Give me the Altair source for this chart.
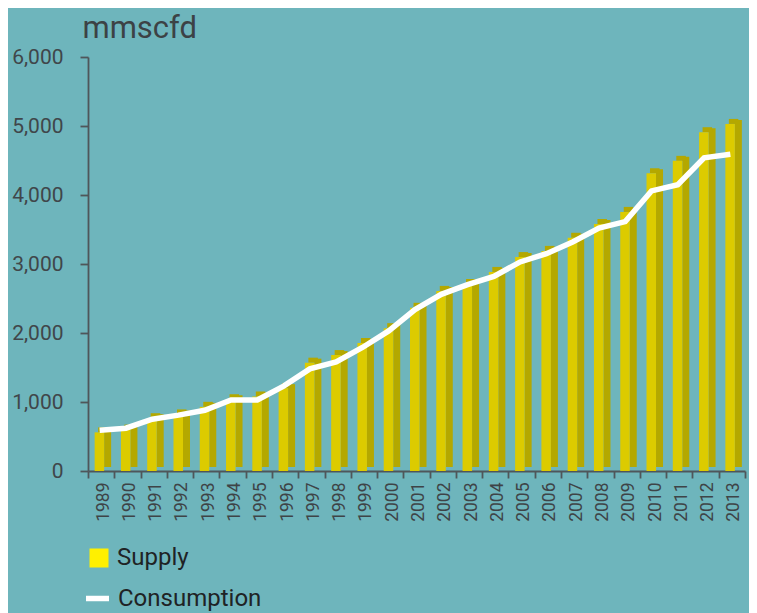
import altair as alt
import pandas as pd

years = [str(y) for y in range(1989, 2014)]
supply = [560, 600, 765, 820, 930, 1040, 1080, 1200, 1570, 1680, 1855, 2070, 2365,
          2610, 2710, 2885, 3100, 3190, 3380, 3580, 3755, 4315, 4495, 4910, 5030]
consumption = [590, 620, 750, 810, 880, 1030, 1030, 1230, 1480, 1580, 1790, 2030, 2340,
               2560, 2700, 2820, 3030, 3150, 3320, 3520, 3615, 4060, 4150, 4540, 4590]

df = pd.DataFrame({"year": years, "supply": supply, "consumption": consumption})

BG = "#6EB5BC"
FRONT = "#DCCB00"
DARK = "#B4A800"
AXIS = "#4F565A"
FONT = "Roboto"

x = alt.X("year:O", scale=alt.Scale(paddingInner=0, paddingOuter=0),
          axis=alt.Axis(title=None, labelAngle=270, tickBand="extent", labelFont=FONT,
                        labelFontSize=17.5, labelColor="#3E4447", labelPadding=4,
                        labelOffset=2, tickSize=7, tickColor=AXIS, domainColor=AXIS,
                        domainWidth=1.8, tickWidth=1.8))
y_scale = alt.Scale(domain=[0, 6000], nice=False)

base = alt.Chart(df)

side = base.mark_bar(size=7, xOffset=6.5, yOffset=-4, y2Offset=-2.5, color=DARK).encode(
    x=x,
    y=alt.Y("supply:Q", scale=y_scale,
            axis=alt.Axis(values=[0, 1000, 2000, 3000, 4000, 5000, 6000], format=",.0f",
                          grid=False, title="mmscfd", titleAngle=0, titleAlign="left",
                          titleBaseline="alphabetic", titleX=-6, titleY=-20,
                          titleFont=FONT, titleFontSize=31, titleFontWeight="normal",
                          titleColor="#3C4245", labelFont=FONT, labelFontSize=21,
                          labelColor="#40464A", labelPadding=17, tickSize=8,
                          tickColor=AXIS, domainColor=AXIS, domainWidth=1.8,
                          tickWidth=1.8)),
)

top = base.mark_bar(size=9.5, xOffset=1.75, yOffset=-5, color=DARK).encode(
    x=x, y=alt.Y("supply:Q", scale=y_scale), y2="supply:Q"
)

front = base.mark_bar(size=9.5, xOffset=-1.75, color=FRONT).encode(
    x=x, y=alt.Y("supply:Q", scale=y_scale)
)

legend_bar = base.transform_calculate(zero="0", series="'Supply'").mark_bar(size=1).encode(
    x=x,
    y=alt.Y("zero:Q", scale=y_scale),
    fill=alt.Fill("series:N",
                  scale=alt.Scale(domain=["Supply"], range=["#FFF000"]),
                  legend=alt.Legend(title=None, orient="none", legendX=-1, legendY=489,
                                    symbolType="square", symbolSize=361,
                                    symbolStrokeWidth=0, labelFont=FONT,
                                    labelFontSize=24, labelColor="#1F2325",
                                    labelOffset=6, padding=0)),
)

line = base.transform_calculate(series2="'Consumption'").mark_line(
    strokeWidth=5.5, xOffset=-1.5).encode(
    x=x,
    y=alt.Y("consumption:Q", scale=y_scale),
    stroke=alt.Stroke("series2:N",
                      scale=alt.Scale(domain=["Consumption"], range=["#FFFFFF"]),
                      legend=alt.Legend(title=None, orient="none", legendX=-5, legendY=527,
                                        symbolType="stroke", symbolSize=529,
                                        symbolStrokeWidth=5.5, labelFont=FONT,
                                        labelFontSize=24, labelColor="#1F2325",
                                        labelOffset=6, padding=0)),
)

chart = alt.layer(side, top, front, legend_bar, line).properties(
    width=657, height=414,
    autosize=alt.AutoSizeParams(type="none"),
    padding={"left": 80, "top": 49, "right": 4, "bottom": 150},
    background=BG,
).configure_view(stroke=None).resolve_legend(fill="independent", stroke="independent")

chart.save("out.html", embed_options={"renderer": "svg", "actions": False})
